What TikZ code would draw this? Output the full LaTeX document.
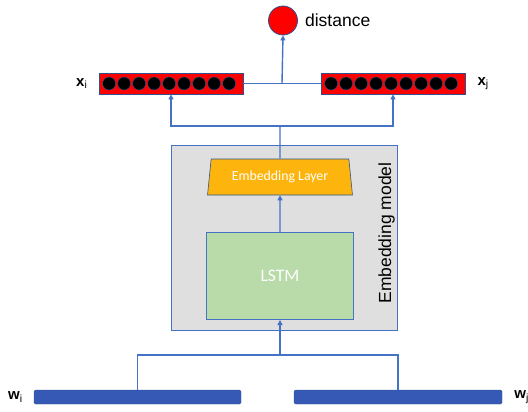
\documentclass[tikz,border=0pt]{standalone}
\usepackage{fontspec}
\setmainfont{Liberation Sans}
\newfontfamily\calibri{Carlito}
\usetikzlibrary{positioning, shapes.geometric, arrows.meta}

\definecolor{linkblue}{HTML}{4472C4}
\definecolor{edgeblue}{HTML}{2F528F}
\definecolor{barred}{HTML}{FF0000}
\definecolor{boxgray}{HTML}{DFDFDF}
\definecolor{embyellow}{HTML}{FDB50D}
\definecolor{lstmgreen}{HTML}{B9DBA9}
\definecolor{wordblue}{HTML}{3759B6}

\begin{document}
\begin{tikzpicture}[x=1pt, y=-1pt,
  vec/.style={draw=edgeblue, fill=barred, line width=.8pt, minimum width=144pt, minimum height=21pt, inner sep=0pt},
  dot/.style={circle, draw=edgeblue, fill=black, line width=.4pt, minimum size=13pt, inner sep=0pt},
  word/.style={draw=edgeblue, fill=wordblue, line width=.4pt, rounded corners=1.5pt, minimum height=14pt, inner sep=0pt},
  lbl/.style={inner sep=0pt, font=\fontsize{15}{15}\selectfont},
  link/.style={draw=linkblue, line width=1.4pt},
  arr/.style={link, -{Triangle[length=5pt, width=5pt]}}]
  \useasboundingbox (0,0) rectangle (528,412);

  % embedding model
  \node[draw=linkblue, fill=boxgray, line width=1pt, minimum width=226pt, minimum height=185pt] (model) at (284,237.5) {};
  \node[rotate=90, inner sep=0pt, font=\fontsize{17.5}{17.5}\selectfont] (modellbl) at (386.5,233) {Embedding model};
  \node[trapezium, trapezium stretches=true, trapezium angle=78, draw=edgeblue, fill=embyellow, line width=.6pt,
        minimum width=145pt, minimum height=36pt, inner sep=0pt, text=white, font=\calibri\fontsize{13.8}{13.8}\selectfont] (emb) at (280,177) {Embedding Layer};
  \node[draw=linkblue, fill=lstmgreen, line width=1pt, minimum width=147pt, minimum height=87pt, text=white,
        font=\calibri\fontsize{17.5}{17.5}\selectfont] (lstm) at (280,276) {LSTM};

  % vectors
  \node[vec] (xi) at (171,83.5) {};
  \node[vec] (xj) at (393,83.5) {};
  \foreach \k in {0,...,8} {
    \node[dot] (xi\k) at ([xshift=10.5pt+15*\k pt]xi.west) {};
    \node[dot] (xj\k) at ([xshift=10.5pt+15*\k pt]xj.west) {};
  }
  \node[lbl, left=11pt of xi] (xilbl) {\textbf{x}\textsubscript{i}};
  \node[lbl, right=12pt of xj] (xjlbl) {\textbf{x}\textsubscript{j}};

  % distance
  \node[circle, draw=edgeblue, fill=barred, line width=.8pt, minimum size=29pt, inner sep=0pt] (dist) at (283,20.5) {};
  \node[right=7pt of dist, inner sep=0pt, font=\fontsize{17.5}{17.5}\selectfont] (distlbl) {distance};

  % words
  \node[word, minimum width=207pt] (wi) at (137.5,397) {};
  \node[word, minimum width=208pt] (wj) at (398,397) {};
  \node[lbl, left=11pt of wi] (wilbl) {\textbf{w}\textsubscript{i}};
  \node[lbl, right=12pt of wj] (wjlbl) {\textbf{w}\textsubscript{j}};

  % connectors
  \coordinate (up) at (280,126);
  \coordinate (down) at (280,355);
  \coordinate (merge) at (282,83.5);
  \draw[link] (emb.north) -- (up);
  \draw[arr] (up) -| (xi.south);
  \draw[arr] (up) -| (xj.south);
  \draw[link] (xi.east) -- (xj.west);
  \draw[arr] (merge) -- (dist.south);
  \draw[arr] (lstm.north) -- (emb.south);
  \draw[link] (wi.north) |- (down) -| (wj.north);
  \draw[arr] (down) -- (lstm.south);
\end{tikzpicture}
\end{document}
